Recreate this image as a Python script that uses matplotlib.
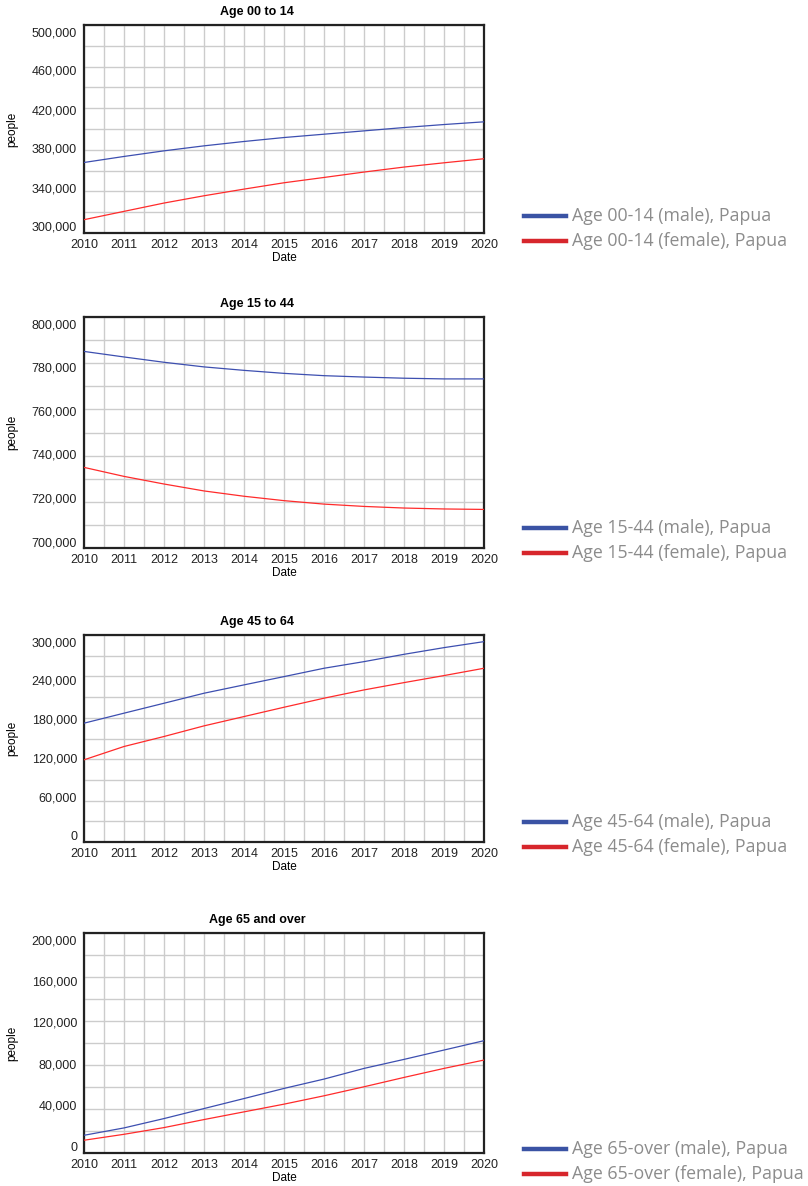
import numpy as np
import matplotlib
matplotlib.use("Agg")
import matplotlib.pyplot as plt
import matplotlib.transforms as mtransforms
from matplotlib.lines import Line2D
from matplotlib.ticker import FixedLocator, MultipleLocator, FuncFormatter

# --- Data (yearly) ---
years = [2010, 2011, 2012, 2013, 2014, 2015, 2016, 2017, 2018, 2019, 2020]

male_00_14 = [367800, 373600, 379000, 383800, 388000, 391800, 395000, 398200, 401400, 404300, 406900]
female_00_14 = [312800, 320800, 328800, 335800, 342200, 348300, 353400, 358600, 363400, 367500, 371400]

male_15_44 = [785100, 782700, 780400, 778400, 776900, 775600, 774600, 774000, 773500, 773200, 773200]
female_15_44 = [734900, 731000, 727700, 724700, 722400, 720500, 719000, 718000, 717300, 716900, 716700]

male_45_64 = [172200, 186700, 201100, 215600, 227700, 239700, 251800, 261400, 272000, 281700, 290400]
female_45_64 = [119100, 138400, 152900, 168300, 181800, 195300, 208400, 220400, 231000, 241200, 251800]

male_65_over = [16100, 22800, 31300, 40400, 49500, 58700, 67200, 76900, 85100, 93600, 102100]
female_65_over = [11600, 17000, 23100, 30400, 37400, 44400, 52000, 60200, 68700, 76900, 84500]

titles = ["Age 00 to 14", "Age 15 to 44", "Age 45 to 64", "Age 65 and over"]
legend_names = ["00-14", "15-44", "45-64", "65-over"]
y_ranges = [(300000, 500000), (700000, 800000), (0, 300000), (0, 200000)]
y_steps = [40000, 20000, 60000, 40000]

# --- Layout (pixels) ---
W, H = 808, 1186
AX_LEFT, AX_RIGHT = 84, 484
panel_px = [(25, 233), (317, 548), (635, 842), (933, 1153)]
legend_y = [(216, 241), (528, 553), (822, 847), (1149, 1174)]

LINE_BLUE = "#3d4fb0"
LINE_RED = "#ff2b2b"
LEG_BLUE = "#3a53a4"
LEG_RED = "#d7262c"
GRID = "#cccccc"

plt.rcParams["font.family"] = ["Liberation Sans", "DejaVu Sans"]

fig = plt.figure(figsize=(W / 100, H / 100), dpi=100)

series = [(male_00_14, female_00_14), (male_15_44, female_15_44),
          (male_45_64, female_45_64), (male_65_over, female_65_over)]

axes = []
for i, (male, female) in enumerate(series):
    top, bot = panel_px[i]
    ax = fig.add_axes([AX_LEFT / W, 1 - bot / H, (AX_RIGHT - AX_LEFT) / W, (bot - top) / H])
    axes.append(ax)

    ax.plot(years, male, color=LINE_BLUE, lw=0.9, zorder=3)
    ax.plot(years, female, color=LINE_RED, lw=0.9, zorder=3)

    lo, hi = y_ranges[i]
    step = y_steps[i]
    ax.set_xlim(2010, 2020)
    ax.set_ylim(lo, hi)
    ax.xaxis.set_major_locator(MultipleLocator(1))
    ax.xaxis.set_minor_locator(MultipleLocator(0.5))
    ax.yaxis.set_major_locator(FixedLocator(np.arange(lo, hi + 1, step)))
    ax.yaxis.set_minor_locator(FixedLocator(np.arange(lo, hi + 1, step / 2)))
    ax.yaxis.set_major_formatter(FuncFormatter(lambda v, p: f"{int(round(v)):,}"))
    ax.grid(True, which="both", color=GRID, lw=1.0)
    ax.set_axisbelow(True)

    ax.tick_params(which="both", length=0, labelsize=9, labelcolor="#222222")
    ax.tick_params(axis="x", pad=4)
    ax.tick_params(axis="y", pad=5)
    for s in ax.spines.values():
        s.set_linewidth(1.6)
        s.set_color("#222222")

    # titles sit a bit left of centre in the original
    ax.set_title(titles[i], fontsize=9, fontweight="bold", pad=7, x=0.433)
    ax.set_xlabel("Date", fontsize=8.5, labelpad=1)
    ax.set_ylabel("people", fontsize=8.5)
    ax.yaxis.set_label_coords(-0.165, 0.5)

    # legend drawn outside at the right
    y_m, y_f = legend_y[i]
    name = legend_names[i]
    for yy, col, lab in [(y_m, LEG_BLUE, f"Age {name} (male), Papua"),
                         (y_f, LEG_RED, f"Age {name} (female), Papua")]:
        fig.add_artist(Line2D([524 / W, 566 / W], [1 - yy / H, 1 - yy / H],
                              color=col, lw=3.2, transform=fig.transFigure))
        fig.text(572 / W, 1 - yy / H, lab, fontsize=12.8, color="#8c8c8c",
                 family=["Open Sans", "DejaVu Sans"], va="center", ha="left")

# Vensim squeezes the y labels inward: pull top labels down, bottom ones up
fig.canvas.draw()
for ax in axes:
    ticks = ax.yaxis.get_major_ticks()
    n = len(ticks)
    for k, t in enumerate(ticks):
        frac = k / (n - 1)
        dy = -(frac - 0.5) * 13 / 100
        t.label1.set_transform(t.label1.get_transform() +
                               mtransforms.ScaledTranslation(0, dy, fig.dpi_scale_trans))

fig.savefig("out.png", dpi=100)
